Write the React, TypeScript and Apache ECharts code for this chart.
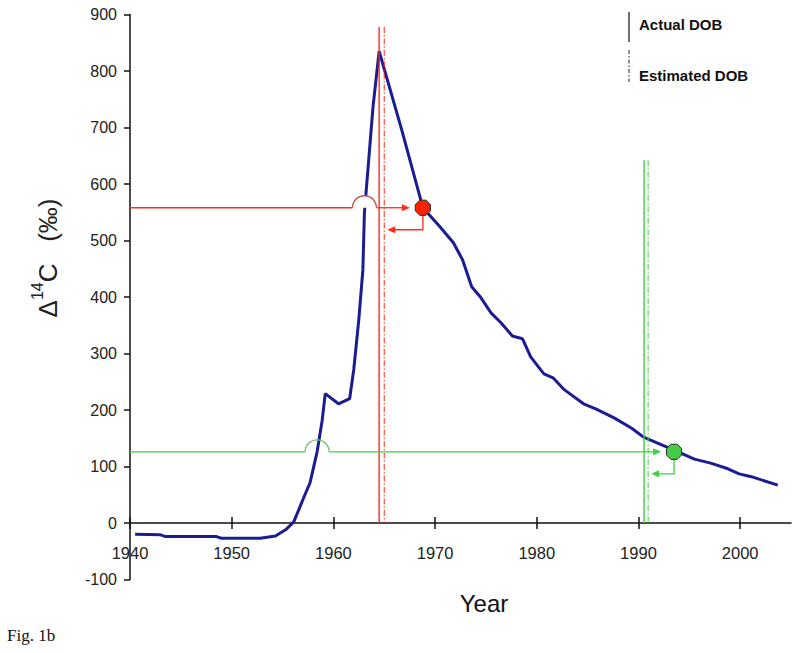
import React, { useEffect, useRef } from "react";
import * as echarts from "echarts";

// Bomb-pulse curve (Δ14C, ‰)
const years = [1940.5, 1943, 1943.5, 1948.5, 1949, 1952.8, 1954.3, 1955.3, 1955.6, 1956.1, 1956.7, 1957.2, 1957.7, 1958.4, 1958.9, 1959.2, 1960.5, 1961.6, 1962.0, 1962.5, 1962.9, 1963.05, 1963.9, 1964.5, 1966.7, 1968.8, 1970.5, 1971.8, 1972.7, 1973.6, 1974.5, 1975.5, 1976.5, 1977.6, 1978.6, 1979.4, 1980.7, 1981.6, 1982.7, 1984.6, 1985.8, 1987.6, 1989.3, 1990.5, 1993.5, 1995.5, 1997.1, 1998.8, 1999.9, 2001.1, 2003.7];
const delta14C = [-20, -21, -24, -24, -27, -27, -23, -12, -7, 2, 28, 50, 71, 126, 182, 229, 211, 220, 271, 360, 448, 549, 737, 835, 697, 558, 524, 496, 466, 418, 399, 372, 354, 331, 326, 294, 264, 257, 236, 211, 202, 186, 168, 152, 129, 113, 106, 96, 87, 82, 67];

// Two samples (red, green)
const sampleValues = [558, 126];
const crossYears = [1963.05, 1958.4];
const matchYears = [1968.8, 1993.5];
const actualDOB = [1964.5, 1990.55];
const estimatedDOB = [1965.0, 1990.95];
const guideTops = [878, 642];
const lineColors = ["#ff2a1a", "#3fd03f"];
const hopColors = ["#c4514a", "#72c072"];
const dotColors = ["#ff2200", "#44cc44"];
const hopFill = ["#ffffff", "none"];

// Axis ticks
const xTicks = [1940, 1950, 1960, 1970, 1980, 1990, 2000];
const yTicks = [-100, 0, 100, 200, 300, 400, 500, 600, 700, 800, 900];

const FONT = "'Liberation Sans', Arial, sans-serif";

function octagon(cx: number, cy: number, r: number) {
  const pts: number[][] = [];
  for (let k = 0; k < 8; k++) {
    const a = Math.PI / 8 + (k * Math.PI) / 4;
    pts.push([cx + r * Math.cos(a), cy + r * Math.sin(a)]);
  }
  return pts;
}

export default function App() {
  const ref = useRef<HTMLDivElement>(null);
  useEffect(() => {
    if (!ref.current) return;
    const chart = echarts.init(ref.current, null, { renderer: "svg" });

    const annotData = sampleValues.map((v, i) => [crossYears[i], v, matchYears[i], actualDOB[i], estimatedDOB[i], guideTops[i], i]);

    const renderItem = (params: any, api: any) => {
      const i = api.value(6);
      const level = api.value(1);
      const col = lineColors[i];
      const start = api.coord([xTicks[0], level]);
      const cross = api.coord([api.value(0), level]);
      const dot = api.coord([api.value(2), level]);
      const actTop = api.coord([api.value(3), api.value(5)]);
      const actBot = api.coord([api.value(3), 0]);
      const estTop = api.coord([api.value(4), api.value(5)]);
      const estBot = api.coord([api.value(4), 0]);
      const r = 12;
      const tip = dot[0] - 13;
      const lowY = dot[1] + 22;
      const lowTip = estTop[0] + 3;
      const lw = 1.3;
      return {
        type: "group",
        children: [
          { type: "line", shape: { x1: start[0], y1: start[1], x2: cross[0] - r, y2: cross[1] }, style: { stroke: col, lineWidth: lw } },
          ...(hopFill[i] !== "none"
            ? [{ type: "sector", shape: { cx: cross[0], cy: cross[1], r0: 0, r: r, startAngle: Math.PI, endAngle: Math.PI * 2 }, style: { fill: hopFill[i] } }]
            : []),
          { type: "arc", shape: { cx: cross[0], cy: cross[1], r: r, startAngle: Math.PI, endAngle: Math.PI * 2, clockwise: true }, style: { stroke: hopColors[i], lineWidth: 1.3, fill: "none" } },
          { type: "line", shape: { x1: cross[0] + r, y1: cross[1], x2: tip - 2, y2: cross[1] }, style: { stroke: col, lineWidth: lw } },
          { type: "polygon", shape: { points: [[tip, dot[1]], [tip - 8, dot[1] - 3.5], [tip - 8, dot[1] + 3.5]] }, style: { fill: col } },
          { type: "line", shape: { x1: actTop[0], y1: actTop[1], x2: actBot[0], y2: actBot[1] }, style: { stroke: col, lineWidth: 1.4 } },
          { type: "line", shape: { x1: estTop[0], y1: estTop[1], x2: estBot[0], y2: estBot[1] }, style: { stroke: col, lineWidth: 1, lineDash: [6, 2, 1.5, 2] } },
          { type: "polyline", shape: { points: [[dot[0], dot[1]], [dot[0], lowY], [lowTip + 6, lowY]] }, style: { stroke: col, lineWidth: lw, fill: "none" } },
          { type: "polygon", shape: { points: [[lowTip, lowY], [lowTip + 8, lowY - 3.5], [lowTip + 8, lowY + 3.5]] }, style: { fill: col } },
          { type: "polygon", shape: { points: octagon(dot[0], dot[1], 8.2) }, style: { fill: dotColors[i], stroke: "#2a2a2a", lineWidth: 1 } },
        ],
      };
    };

    const xAxisBase = {
      type: "value",
      min: 1940,
      max: 2005,
      interval: 10,
      position: "bottom",
      offset: -56.5,
      splitLine: { show: false },
    };

    const option: any = {
      animation: false,
      backgroundColor: "#ffffff",
      grid: { left: 130, right: 9, top: 14.5, bottom: 73.5, containLabel: false },
      xAxis: [
        {
          ...xAxisBase,
          axisLine: { onZero: false, lineStyle: { color: "#111", width: 1.5 } },
          axisTick: { show: true, inside: false, length: 6, customValues: xTicks, lineStyle: { color: "#111", width: 1.5 } },
          axisLabel: { customValues: xTicks, margin: 21, fontSize: 16.5, color: "#222", fontFamily: FONT, formatter: (v: number) => String(v) },
        },
        {
          ...xAxisBase,
          axisLine: { show: false, onZero: false },
          axisTick: { show: true, inside: true, length: 6, customValues: xTicks, lineStyle: { color: "#111", width: 1.5 } },
          axisLabel: { show: false },
        },
      ],
      yAxis: {
        type: "value",
        min: yTicks[0],
        max: yTicks[yTicks.length - 1],
        interval: 100,
        axisLine: { show: true, onZero: false, lineStyle: { color: "#111", width: 1.5 } },
        axisTick: { show: true, length: 6, lineStyle: { color: "#111", width: 1.5 } },
        axisLabel: { margin: 13, fontSize: 16, color: "#222", fontFamily: FONT },
        splitLine: { show: false },
      },
      series: [
        {
          type: "line",
          xAxisIndex: 0,
          data: years.map((y, i) => [y, delta14C[i]]),
          showSymbol: false,
          symbol: "none",
          lineStyle: { color: "#1c1c92", width: 3 },
          z: 2,
        },
        {
          type: "custom",
          xAxisIndex: 0,
          data: annotData,
          encode: { x: 0, y: 1 },
          renderItem,
          clip: false,
          silent: true,
          z: 3,
        },
      ],
      graphic: [
        {
          type: "text",
          x: 45,
          y: 258,
          rotation: Math.PI / 2,
          style: {
            text: "{m|Δ}{s|14}{m|C   (‰)}",
            align: "center",
            verticalAlign: "middle",
            rich: {
              m: { fontSize: 26, fontFamily: FONT, fill: "#222", lineHeight: 32, verticalAlign: "bottom" },
              s: { fontSize: 16, fontFamily: FONT, fill: "#222", lineHeight: 32, verticalAlign: "top" },
            },
          },
        },
        { type: "text", x: 484, y: 603, style: { text: "Year", font: "24px " + FONT, fill: "#111", align: "center", verticalAlign: "middle" } },
        { type: "text", x: 7, y: 635, style: { text: "Fig. 1b", font: "17px 'Liberation Serif', 'Times New Roman', serif", fill: "#111", align: "left", verticalAlign: "middle" } },
        { type: "line", shape: { x1: 629, y1: 12, x2: 629, y2: 42 }, style: { stroke: "#222", lineWidth: 1.3 } },
        { type: "line", shape: { x1: 629, y1: 50, x2: 629, y2: 82 }, style: { stroke: "#222", lineWidth: 1, lineDash: [4, 2, 1.5, 2] } },
        { type: "text", x: 639, y: 24, style: { text: "Actual DOB", font: "bold 15px " + FONT, fill: "#111", align: "left", verticalAlign: "middle" } },
        { type: "text", x: 639, y: 75, style: { text: "Estimated DOB", font: "bold 15px " + FONT, fill: "#111", align: "left", verticalAlign: "middle" } },
      ],
    };
    chart.setOption(option);
    return () => chart.dispose();
  }, []);
  return <div ref={ref} style={{ width: 800, height: 653, position: "absolute", left: 0, top: 0 }} />;
}
